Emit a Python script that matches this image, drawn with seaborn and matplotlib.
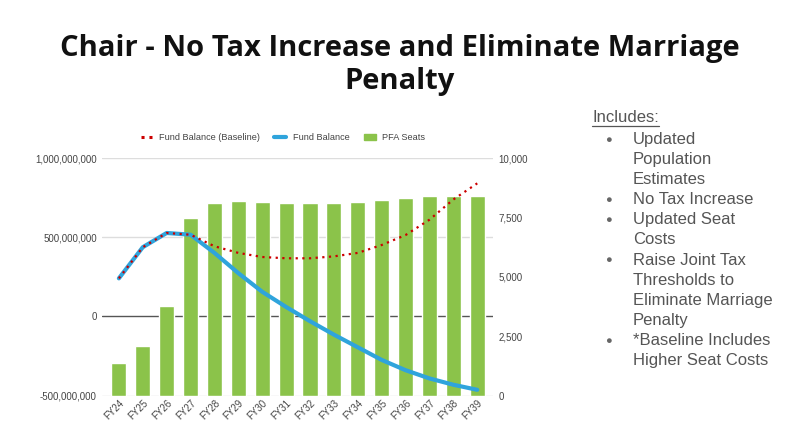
import numpy as np
import pandas as pd
import seaborn as sns
import matplotlib.pyplot as plt
from matplotlib.lines import Line2D
from matplotlib.patches import Patch
from matplotlib.ticker import FuncFormatter
from matplotlib.transforms import blended_transform_factory

# Data
years = ['FY24', 'FY25', 'FY26', 'FY27', 'FY28', 'FY29', 'FY30', 'FY31',
         'FY32', 'FY33', 'FY34', 'FY35', 'FY36', 'FY37', 'FY38', 'FY39']
pfa_seats = [1370, 2070, 3790, 7470, 8100, 8210, 8170, 8120,
             8110, 8110, 8170, 8240, 8340, 8430, 8430, 8430]
fund_balance = [241e6, 438e6, 528e6, 517e6, 402e6, 274e6, 156e6, 60e6,
                -30e6, -115e6, -195e6, -275e6, -340e6, -392e6, -432e6, -464e6]
fund_baseline = [241e6, 438e6, 528e6, 517e6, 444e6, 402e6, 376e6, 368e6,
                 368e6, 380e6, 402e6, 452e6, 515e6, 612e6, 740e6, 842e6]
left_ticks = [-500e6, 0, 500e6, 1000e6]
right_ticks = [0, 2500, 5000, 7500, 10000]

title_lines = ['Chair - No Tax Increase and Eliminate Marriage', 'Penalty']
notes_header = 'Includes:'
notes = [('Updated', True), ('Population', False), ('Estimates', False),
         ('No Tax Increase', True), ('Updated Seat', True), ('Costs', False),
         ('Raise Joint Tax', True), ('Thresholds to', False),
         ('Eliminate Marriage', False), ('Penalty', False),
         ('*Baseline Includes', True), ('Higher Seat Costs', False)]

df = pd.DataFrame({'Year': years, 'Seats': pfa_seats,
                   'Fund': fund_balance, 'Baseline': fund_baseline})

sns.set_style('white')
plt.rcParams['font.family'] = ['Liberation Sans', 'DejaVu Sans']

GREEN = '#8bc34a'
BLUE = '#2fa4dc'
RED = '#cc0000'
LABEL = '#444444'

fig = plt.figure(figsize=(8, 4.25), dpi=100)
ax = fig.add_axes([0.128, 0.0694, 0.488, 0.558])

# bars on the primary axes (seats, right-hand scale)
sns.barplot(data=df, x='Year', y='Seats', color=GREEN, width=0.63,
            saturation=1, ax=ax, zorder=2)
ax.set_ylim(0, 10000)
ax.set_yticks(right_ticks)
ax.yaxis.set_major_formatter(FuncFormatter(lambda v, p: f'{v:,.0f}'))

# lines on the twin axes (fund balance, left-hand scale)
ax2 = ax.twinx()
sns.lineplot(data=df, x='Year', y='Fund', color=BLUE, lw=3, sort=False,
             ax=ax2, zorder=3)
sns.lineplot(data=df, x='Year', y='Baseline', color=RED, lw=1.6,
             linestyle=(0, (1, 2)), sort=False, ax=ax2, zorder=4)
ax2.set_ylim(-500e6, 1000e6)
ax2.set_yticks(left_ticks)
ax2.yaxis.set_major_formatter(FuncFormatter(lambda v, p: f'{v:,.0f}'))
ax.set_xlim(-0.69, 15.65)

# swap sides: seats on the right, fund balance on the left
ax.yaxis.tick_right()
ax.yaxis.set_label_position('right')
ax2.yaxis.tick_left()
ax2.yaxis.set_label_position('left')

# gridlines behind the bars, at the left-axis tick values
trans = blended_transform_factory(ax.transAxes, ax2.transData)
for v in left_ticks:
    ax.plot([0, 1], [v, v], transform=trans, zorder=0.5,
            color='#555555' if v == 0 else '#dddddd', lw=1)

for a in (ax, ax2):
    for s in a.spines.values():
        s.set_visible(False)
    a.set_xlabel('')
    a.set_ylabel('')
    a.tick_params(length=0, labelsize=7, labelcolor=LABEL, pad=4)
ax.tick_params(axis='x', pad=2)
for lab in ax.get_xticklabels():
    lab.set_rotation(45)
    lab.set_ha('right')
    lab.set_va('top')
    lab.set_rotation_mode('anchor')

handles = [Line2D([], [], color=RED, lw=2.2, linestyle=(0, (1, 1.6))),
           Line2D([], [], color=BLUE, lw=3),
           Patch(facecolor=GREEN, edgecolor=GREEN)]
fig.legend(handles, ['Fund Balance (Baseline)', 'Fund Balance', 'PFA Seats'],
           loc='center', bbox_to_anchor=(283 / 800, 1 - 137.5 / 425), ncol=3,
           frameon=False, fontsize=6.6, labelcolor=LABEL, handlelength=1.3,
           handletextpad=0.7, columnspacing=1.6)

# title
for i, line in enumerate(title_lines):
    fig.text(0.5, 1 - (56 + 33 * i) / 425, line, ha='center', va='baseline',
             fontsize=21, fontweight='bold',
             family=['Open Sans', 'DejaVu Sans'], color='#111111')

# notes on the right
TXT = '#555555'
hdr = fig.text(592 / 800, 1 - 122 / 425, notes_header, ha='left',
               va='baseline', fontsize=12, color=TXT)
fig.canvas.draw()
bb = hdr.get_window_extent().transformed(fig.transFigure.inverted())
fig.add_artist(Line2D([bb.x0, bb.x1], [1 - 125.5 / 425] * 2, color=TXT,
                      lw=0.9, transform=fig.transFigure))
y = 144
for text, bullet in notes:
    if bullet:
        fig.text(608 / 800, 1 - (y - 4.5) / 425, '\u25cf', ha='center',
                 va='center', fontsize=8, color='#666666')
    fig.text(633 / 800, 1 - y / 425, text, ha='left', va='baseline',
             fontsize=12, color=TXT)
    y += 20.1

fig.savefig('out.png', dpi=100)
